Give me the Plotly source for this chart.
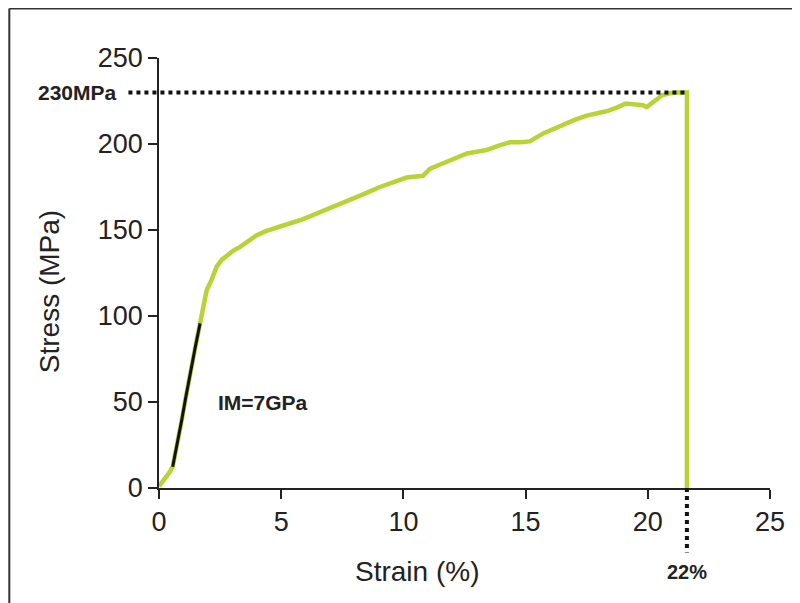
import plotly.graph_objects as go

# ---- data ----
strain = [0.0, 0.15, 0.31, 0.45, 0.56, 0.75, 0.93, 1.1, 1.27, 1.48, 1.68, 1.82, 1.95, 2.15,
          2.36, 2.56, 2.8, 3.04, 3.3, 3.72, 4.0, 4.4, 4.8, 5.1, 5.5, 5.85, 6.2, 6.6, 7.0,
          7.4, 7.8, 8.4, 9.04, 9.6, 10.13, 10.8, 11.08, 11.4, 11.77, 12.2, 12.6, 13.0,
          13.4, 13.9, 14.36, 14.8, 15.17, 15.7, 16.1, 16.5, 17.0, 17.5, 17.9, 18.3, 18.7,
          19.1, 19.5, 19.8, 19.95, 20.15, 20.35, 20.6, 20.9, 21.2, 21.6, 21.6]
stress = [1.0, 3.5, 6.6, 9.5, 12.4, 25.5, 39.5, 53.0, 66.7, 81.5, 95.7, 106.0, 115.0, 121.0,
          128.7, 132.6, 135.5, 138.0, 140.0, 144.5, 147.0, 149.5, 151.5, 152.5, 154.5, 156.0,
          158.0, 160.5, 163.0, 165.0, 167.0, 171.0, 175.0, 177.5, 180.5, 181.5, 185.5, 187.5,
          189.5, 192.0, 194.5, 195.5, 196.5, 199.0, 201.0, 201.0, 201.5, 206.0, 208.5, 211.0,
          214.0, 216.5, 217.5, 219.0, 221.0, 223.5, 223.0, 222.5, 221.5, 223.5, 225.5, 228.5,
          229.5, 230.0, 230.0, 0.0]

# initial-modulus fit segment
fit_strain = [0.56, 0.75, 0.93, 1.1, 1.27, 1.48, 1.68]
fit_stress = [12.4, 25.5, 39.5, 53.0, 66.7, 81.5, 95.7]

X_RANGE = [0, 25]
Y_RANGE = [0, 250]
x_ticks = [0, 5, 10, 15, 20, 25]
y_ticks = [0, 50, 100, 150, 200, 250]

STRESS_MAX = 230
STRAIN_BREAK = 21.6
label_max = "230MPa"
label_break = "22%"
label_modulus = "IM=7GPa"

GREEN = "#b9d337"
INK = "#222222"
FONT = "Liberation Sans, Arial, sans-serif"

fig = go.Figure()
fig.add_trace(go.Scatter(x=strain, y=stress, mode="lines",
                         line=dict(color=GREEN, width=4.5), showlegend=False))
fig.add_trace(go.Scatter(x=fit_strain, y=fit_stress, mode="lines",
                         line=dict(color="#111111", width=3), showlegend=False))

# dotted reference lines
fig.add_shape(type="line", xref="paper", yref="y",
              x0=-0.05, x1=STRAIN_BREAK / X_RANGE[1] - 0.004,
              y0=STRESS_MAX, y1=STRESS_MAX,
              line=dict(color="#111111", width=4, dash="dot"))
fig.add_shape(type="line", xref="x", yref="paper",
              x0=STRAIN_BREAK, x1=STRAIN_BREAK, y0=0, y1=-0.15,
              line=dict(color="#111111", width=4, dash="dot"))

# scanned frame: only the top and left edges are inside the picture
fig.add_shape(type="line", xref="paper", yref="paper",
              x0=-0.245, x1=1.3, y0=1.115, y1=1.115,
              line=dict(color="#333333", width=2))
fig.add_shape(type="line", xref="paper", yref="paper",
              x0=-0.245, x1=-0.245, y0=-0.5, y1=1.115,
              line=dict(color="#333333", width=2))

axis_common = dict(showline=True, linecolor=INK, linewidth=1.6, ticks="outside",
                   ticklen=9, tickwidth=1.6, tickcolor=INK, showgrid=False,
                   zeroline=False, tickfont=dict(family=FONT, size=27, color=INK))
fig.update_xaxes(range=X_RANGE, tickvals=x_ticks, **axis_common)
fig.update_yaxes(range=Y_RANGE, tickvals=y_ticks, **axis_common)

fig.add_annotation(xref="paper", yref="paper", x=0.422, y=-0.195, text="Strain (%)",
                   xanchor="center", yanchor="middle",
                   showarrow=False, font=dict(family=FONT, size=28, color=INK))
fig.add_annotation(xref="paper", yref="paper", x=-0.178, y=0.456, text="Stress (MPa)",
                   xanchor="center", yanchor="middle",
                   textangle=-90, showarrow=False, font=dict(family=FONT, size=28, color=INK))
fig.add_annotation(xref="paper", yref="y", x=-0.065, y=STRESS_MAX, xanchor="right",
                   yanchor="middle",
                   text=f"<b>{label_max}</b>", showarrow=False,
                   font=dict(family=FONT, size=21, color=INK))
fig.add_annotation(xref="x", yref="paper", x=STRAIN_BREAK, y=-0.195,
                   xanchor="center", yanchor="middle",
                   text=f"<b>{label_break}</b>", showarrow=False,
                   font=dict(family=FONT, size=20, color=INK))
fig.add_annotation(xref="x", yref="y", x=2.33, y=50, xanchor="left", yanchor="middle",
                   text=f"<b>{label_modulus}</b>", showarrow=False,
                   font=dict(family=FONT, size=21, color=INK))

# page body adds an 8px offset, so the figure is sized to fit inside the window
fig.update_layout(width=792, height=595, plot_bgcolor="white", paper_bgcolor="white",
                  margin=dict(l=151, r=30, t=50, b=115), showlegend=False)

fig.write_html("out.html")
